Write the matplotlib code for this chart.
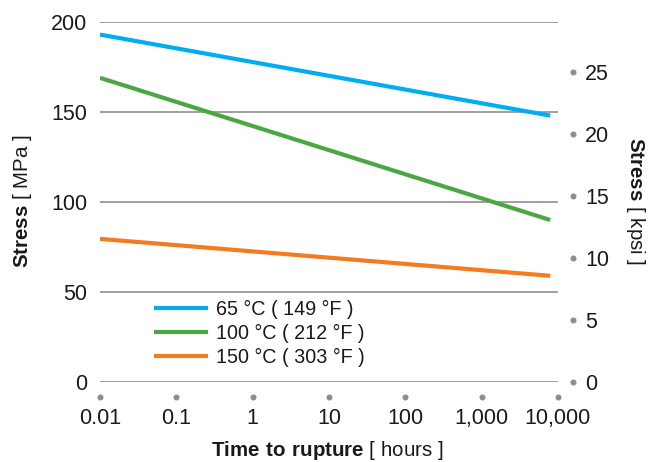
import matplotlib
matplotlib.use("Agg")
import matplotlib.pyplot as plt
import numpy as np

plt.rcParams["font.family"] = ["Liberation Sans", "DejaVu Sans"]
plt.rcParams["mathtext.fontset"] = "custom"
plt.rcParams["mathtext.rm"] = "Liberation Sans"
plt.rcParams["mathtext.bf"] = "Liberation Sans:bold"

# Time to rupture [hours] and stress [MPa] at the end points of each curve
hours = [0.01, 7900]
stress_65 = [193, 148]
stress_100 = [169, 90]
stress_150 = [79.5, 59]

series_labels = ["65 °C ( 149 °F )", "100 °C ( 212 °F )", "150 °C ( 303 °F )"]
series_colors = ["#00aeef", "#4aa843", "#f47b20"]

x_ticks = [0.01, 0.1, 1, 10, 100, 1000, 10000]
x_ticklabels = ["0.01", "0.1", "1", "10", "100", "1,000", "10,000"]
y_ticks = [0, 50, 100, 150, 200]
kpsi_ticks = [0, 5, 10, 15, 20, 25]
MPA_PER_KPSI = 6.89476

TEXT = "#1a1a1a"
DOT = "#8c8c8c"

W, H = 657, 462
fig = plt.figure(figsize=(W / 100, H / 100), dpi=100)
ax = fig.add_axes([100 / W, 1 - 382 / H, 458 / W, 360 / H])

for vals, lab, col in zip([stress_65, stress_100, stress_150], series_labels, series_colors):
    ax.plot(hours, vals, color=col, lw=3, label=lab, solid_capstyle="butt")

ax.set_xscale("log")
ax.set_xlim(0.01, 10000)
ax.set_ylim(0, 200)
ax.set_xticks(x_ticks)
ax.set_xticklabels(x_ticklabels)
ax.xaxis.set_minor_locator(matplotlib.ticker.NullLocator())
ax.set_yticks(y_ticks)
ax.yaxis.grid(True, color="#a0a0a0", lw=1.4)
ax.set_axisbelow(True)
for s in ax.spines.values():
    s.set_visible(False)
ax.spines["bottom"].set_position(("outward", 11))

ax.tick_params(axis="y", length=0, pad=9, labelsize=15.5, labelcolor=TEXT)
ax.tick_params(axis="x", pad=4, labelsize=15.5, labelcolor=TEXT)
for t in ax.xaxis.get_major_ticks():
    t.tick1line.set_marker("o")
    t.tick1line.set_markersize(3.5)
    t.tick1line.set_markerfacecolor(DOT)
    t.tick1line.set_markeredgecolor(DOT)

# Secondary scale in kpsi
ax2 = ax.twinx()
ax2.set_ylim(0, 200 / MPA_PER_KPSI)
ax2.set_yticks(kpsi_ticks)
for s in ax2.spines.values():
    s.set_visible(False)
ax2.spines["right"].set_position(("outward", 11))
ax2.tick_params(axis="y", pad=5, labelsize=15.5, labelcolor=TEXT)
for t in ax2.yaxis.get_major_ticks():
    t.tick2line.set_marker("o")
    t.tick2line.set_markersize(3.5)
    t.tick2line.set_markerfacecolor(DOT)
    t.tick2line.set_markeredgecolor(DOT)

fig.text(22 / W, 1 - 201 / H, r"$\mathbf{Stress}$ [ MPa ]", rotation=90,
         ha="center", va="center", fontsize=14.8, color=TEXT)
fig.text(636 / W, 1 - 201 / H, r"$\mathbf{Stress}$ [ kpsi ]", rotation=-90,
         ha="center", va="center", fontsize=14.8, color=TEXT)
fig.text(327 / W, 1 - 450 / H, r"$\mathbf{Time\ to\ rupture}$ [ hours ]",
         ha="center", va="center", fontsize=14.8, color=TEXT)

leg = ax.legend(loc="upper left", bbox_to_anchor=(154 / W, 1 - 300 / H),
                bbox_transform=fig.transFigure, frameon=False, fontsize=14.2,
                handlelength=2.75, handletextpad=0.4, labelspacing=0.25,
                borderpad=0, borderaxespad=0)
for txt in leg.get_texts():
    txt.set_color(TEXT)

fig.savefig("out.png", dpi=100)
